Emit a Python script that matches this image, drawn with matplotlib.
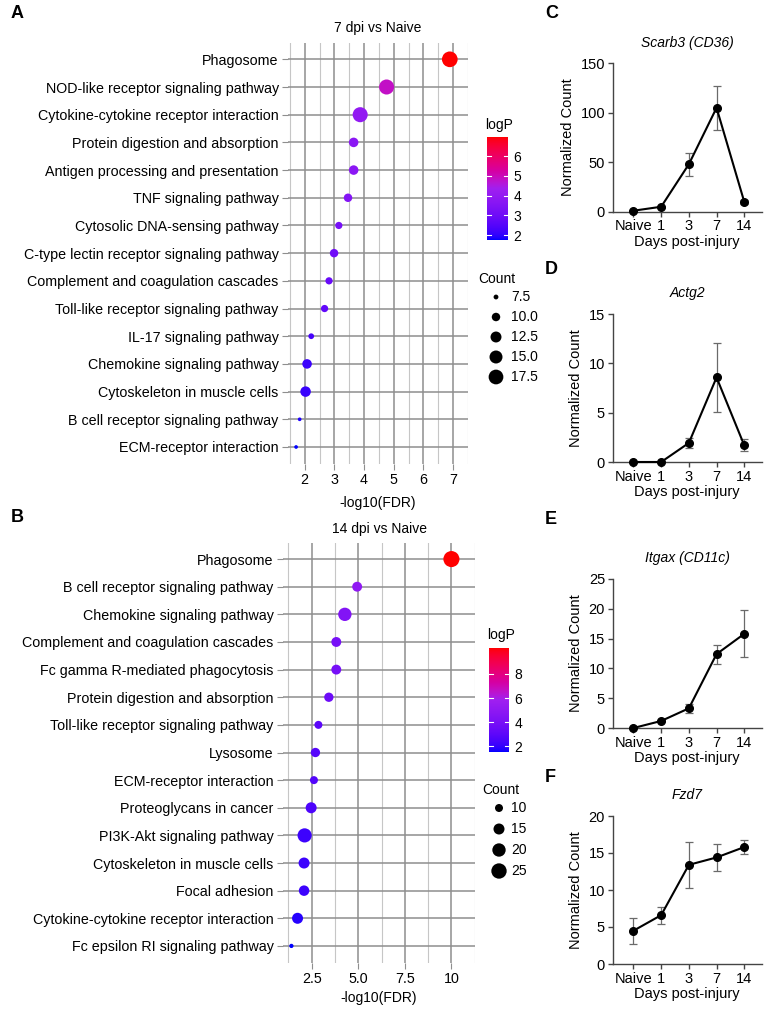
import numpy as np
import matplotlib
matplotlib.use('Agg')
import matplotlib.pyplot as plt
from matplotlib.colors import ListedColormap

plt.rcParams['font.family'] = ['Liberation Sans', 'DejaVu Sans']

# ---- panel A: KEGG enrichment, 7 dpi vs naive
terms_a = ['Phagosome', 'NOD-like receptor signaling pathway',
           'Cytokine-cytokine receptor interaction', 'Protein digestion and absorption',
           'Antigen processing and presentation', 'TNF signaling pathway',
           'Cytosolic DNA-sensing pathway', 'C-type lectin receptor signaling pathway',
           'Complement and coagulation cascades', 'Toll-like receptor signaling pathway',
           'IL-17 signaling pathway', 'Chemokine signaling pathway',
           'Cytoskeleton in muscle cells', 'B cell receptor signaling pathway',
           'ECM-receptor interaction']
fdr_a = [6.89, 4.76, 3.87, 3.65, 3.65, 3.46, 3.15, 2.99, 2.82, 2.67, 2.22, 2.08, 2.03, 1.83, 1.71]
count_a = [19, 18, 18, 11, 11, 10, 9, 10, 9, 9, 8, 11, 12, 7, 7]
logp_a = [6.98, 4.85, 3.95, 3.72, 3.72, 3.53, 3.21, 3.05, 2.88, 2.72, 2.27, 2.13, 2.08, 1.87, 1.75]
ticks_a = [2, 3, 4, 5, 6, 7]
count_breaks_a = [7.5, 10.0, 12.5, 15.0, 17.5]
logp_breaks_a = [2, 3, 4, 5, 6]

# ---- panel B: KEGG enrichment, 14 dpi vs naive
terms_b = ['Phagosome', 'B cell receptor signaling pathway', 'Chemokine signaling pathway',
           'Complement and coagulation cascades', 'Fc gamma R-mediated phagocytosis',
           'Protein digestion and absorption', 'Toll-like receptor signaling pathway',
           'Lysosome', 'ECM-receptor interaction', 'Proteoglycans in cancer',
           'PI3K-Akt signaling pathway', 'Cytoskeleton in muscle cells', 'Focal adhesion',
           'Cytokine-cytokine receptor interaction', 'Fc epsilon RI signaling pathway']
fdr_b = [10.0, 4.94, 4.28, 3.82, 3.82, 3.42, 2.86, 2.70, 2.62, 2.47, 2.12, 2.09, 2.09, 1.74, 1.41]
count_b = [27, 13, 20, 13, 13, 12, 10, 12, 10, 15, 22, 15, 14, 15, 6]
logp_b = [10.14, 5.05, 4.40, 3.92, 3.92, 3.52, 2.95, 2.79, 2.70, 2.55, 2.19, 2.16, 2.16, 1.82, 1.53]
ticks_b = [2.5, 5.0, 7.5, 10.0]
tick_labels_b = ['2.5', '5.0', '7.5', '10']
count_breaks_b = [10, 15, 20, 25]
logp_breaks_b = [2, 4, 6, 8]

# ---- panels C-F: normalized counts over time
days = ['Naive', '1', '3', '7', '14']
scarb3_mean = [1.0, 5.0, 48.0, 105.0, 10.0]
scarb3_sem = [0.5, 1.0, 11.5, 22.0, 2.0]
actg2_mean = [0.0, 0.0, 1.93, 8.57, 1.69]
actg2_sem = [0.0, 0.0, 0.5, 3.5, 0.6]
itgax_mean = [0.0, 1.18, 3.3, 12.4, 15.8]
itgax_sem = [0.05, 0.1, 0.7, 1.6, 3.95]
fzd7_mean = [4.5, 6.6, 13.4, 14.4, 15.8]
fzd7_sem = [1.75, 1.17, 3.1, 1.8, 1.0]

W, H = 767, 1009
GRID_MAJ = '#8e8e8e'
GRID_MIN = '#c6c6c6'
M = np.array([[0.4124, 0.3576, 0.1805], [0.2126, 0.7152, 0.0722], [0.0193, 0.1192, 0.9505]])
WP = np.array([0.95047, 1.0, 1.08883])


def srgb_to_lab(rgb):
    rgb = np.asarray(rgb, float)
    c = np.where(rgb <= 0.04045, rgb / 12.92, ((rgb + 0.055) / 1.055) ** 2.4)
    t = (M @ c) / WP
    f = np.where(t > (6 / 29) ** 3, np.cbrt(t), t / (3 * (6 / 29) ** 2) + 4 / 29)
    return np.array([116 * f[1] - 16, 500 * (f[0] - f[1]), 200 * (f[1] - f[2])])


def lab_to_srgb(lab):
    L, a, b = lab
    fy = (L + 16) / 116
    f = np.array([fy + a / 500, fy, fy - b / 200])
    t = np.where(f > 6 / 29, f ** 3, 3 * (6 / 29) ** 2 * (f - 4 / 29))
    c = np.clip(np.linalg.inv(M) @ (t * WP), 0, 1)
    return np.clip(np.where(c <= 0.0031308, 12.92 * c, 1.055 * c ** (1 / 2.4) - 0.055), 0, 1)


# blue -> purple -> red, interpolated in Lab like ggplot's gradientn
stops = [srgb_to_lab(c) for c in ([0, 0, 1], [0xA0 / 255, 0x20 / 255, 0xF0 / 255], [1, 0, 0])]
cols = []
for t in np.linspace(0, 1, 256):
    if t <= 0.5:
        lab = stops[0] + (stops[1] - stops[0]) * (t / 0.5)
    else:
        lab = stops[1] + (stops[2] - stops[1]) * ((t - 0.5) / 0.5)
    cols.append(lab_to_srgb(lab))
cmap = ListedColormap(cols)


def px_axes(fig, l, t, r, b):
    return fig.add_axes([l / W, 1 - b / H, (r - l) / W, (b - t) / H])


def dot_area(c, k, c0):
    d = k * np.sqrt(np.maximum(np.asarray(c, float) - c0, 0.05))
    return (d * 0.72) ** 2


def dotplot(fig, box, terms, fdr, counts, logp, ticks, ticklabels, k, c0):
    ax = px_axes(fig, *box)
    n = len(terms)
    y = np.arange(n)[::-1]
    lo, hi = min(fdr), max(fdr)
    pad = 0.05 * (hi - lo)
    ax.set_xlim(lo - pad, hi + pad)
    ax.set_ylim(-0.6, n - 0.4)
    step = ticks[1] - ticks[0]
    minor = np.arange(ticks[0] - step / 2, ticks[-1] + step, step)
    ax.set_xticks(ticks)
    ax.set_xticklabels(ticklabels)
    ax.set_xticks(minor, minor=True)
    ax.set_yticks(y)
    ax.set_yticklabels(terms)
    ax.grid(which='major', color=GRID_MAJ, lw=1.1)
    ax.grid(which='minor', axis='x', color=GRID_MIN, lw=0.8)
    ax.set_axisbelow(True)
    for s in ax.spines.values():
        s.set_visible(False)
    ax.tick_params(which='major', length=4, color=GRID_MAJ, labelsize=10.3, pad=3)
    ax.tick_params(which='minor', length=0)
    vmin, vmax = min(logp), max(logp)
    ax.scatter(fdr, y, s=dot_area(counts, k, c0), c=logp, cmap=cmap, vmin=vmin, vmax=vmax,
               edgecolors='none', zorder=3, clip_on=False)
    return ax


def colorbar(fig, box, logp, breaks):
    ax = px_axes(fig, *box)
    vmin, vmax = min(logp), max(logp)
    grad = np.linspace(vmin, vmax, 256).reshape(-1, 1)
    ax.imshow(grad, aspect='auto', cmap=cmap, extent=[0, 1, vmin, vmax], origin='lower')
    ax.set_xlim(0, 1)
    ax.set_ylim(vmin, vmax)
    for b in breaks:
        ax.plot([0, 0.2], [b, b], color='white', lw=0.8)
        ax.plot([0.8, 1], [b, b], color='white', lw=0.8)
    ax.set_xticks([])
    ax.yaxis.tick_right()
    ax.set_yticks(breaks)
    ax.tick_params(axis='y', length=0, labelsize=10, pad=4)
    for s in ax.spines.values():
        s.set_visible(False)
    return ax


def lineplot(fig, box, mean, sem, top, step, title):
    ax = px_axes(fig, *box)
    x = np.arange(len(days))
    ax.errorbar(x, mean, yerr=sem, fmt='none', ecolor='#6a6a6a', elinewidth=0.9,
                capsize=3.2, capthick=0.9, zorder=2, clip_on=False)
    ax.plot(x, mean, color='black', lw=1.5, marker='o', ms=5.5, zorder=3, clip_on=False)
    ax.set_xlim(-0.75, 4.63)
    ax.set_ylim(0, top)
    ax.set_yticks(np.arange(0, top + step / 2, step))
    ax.set_xticks(x)
    ax.set_xticklabels(days)
    for s in ['top', 'right']:
        ax.spines[s].set_visible(False)
    for s in ['left', 'bottom']:
        ax.spines[s].set_color('#444444')
        ax.spines[s].set_linewidth(1.0)
    ax.tick_params(length=3.5, width=1.0, color='#444444', labelsize=10.5, pad=2)
    ax.set_ylabel('Normalized Count', fontsize=10.5, labelpad=4)
    ax.set_xlabel('Days post-injury', fontsize=10.5, labelpad=1)
    ax.set_title(title, fontsize=10, pad=12, fontstyle='italic')
    return ax


fig = plt.figure(figsize=(W / 100, H / 100), dpi=100)
ov = fig.add_axes([0, 0, 1, 1])
ov.set_xlim(0, W)
ov.set_ylim(H, 0)
ov.axis('off')

# panel A
k_a, c0_a = 4.4, 6.3
dotplot(fig, (288.4, 42.7, 467.9, 463.6), terms_a, fdr_a, count_a, logp_a,
        ticks_a, [str(t) for t in ticks_a], k_a, c0_a)
ov.text(378, 28, '7 dpi vs Naive', ha='center', va='center', fontsize=10)
ov.text(378, 503, '-log10(FDR)', ha='center', va='center', fontsize=10)
colorbar(fig, (487, 137, 508, 240), logp_a, logp_breaks_a)
ov.text(485, 125, 'logP', ha='left', va='center', fontsize=10)
ov.text(478, 279, 'Count', ha='left', va='center', fontsize=10)
for i, c in enumerate(count_breaks_a):
    ov.scatter([496], [297 + 20 * i], s=dot_area(c, k_a, c0_a), color='black', edgecolors='none')
    ov.text(511, 297 + 20 * i, f'{c:.1f}', ha='left', va='center', fontsize=10)

# panel B
k_b, c0_b = 3.38, 4.4
dotplot(fig, (283.4, 542.5, 474.7, 962.5), terms_b, fdr_b, count_b, logp_b,
        ticks_b, tick_labels_b, k_b, c0_b)
ov.text(379, 529, '14 dpi vs Naive', ha='center', va='center', fontsize=10)
ov.text(379, 998, '-log10(FDR)', ha='center', va='center', fontsize=10)
colorbar(fig, (489, 648, 509, 752), logp_b, logp_breaks_b)
ov.text(487, 635, 'logP', ha='left', va='center', fontsize=10)
ov.text(482, 790, 'Count', ha='left', va='center', fontsize=10)
for i, c in enumerate(count_breaks_b):
    ov.scatter([499], [808 + 21 * i], s=dot_area(c, k_b, c0_b), color='black', edgecolors='none')
    ov.text(511, 808 + 21 * i, str(c), ha='left', va='center', fontsize=10)

# panels C-F
lineplot(fig, (612.7, 63.3, 761.7, 211.7), scarb3_mean, scarb3_sem, 150, 50, 'Scarb3 (CD36)')
lineplot(fig, (612.7, 314, 761.7, 462), actg2_mean, actg2_sem, 15, 5, 'Actg2')
lineplot(fig, (612.7, 579, 761.7, 728), itgax_mean, itgax_sem, 25, 5, 'Itgax (CD11c)')
lineplot(fig, (612.7, 816, 761.7, 964), fzd7_mean, fzd7_sem, 20, 5, 'Fzd7')

for letter, x, y in [('A', 11, 14), ('B', 11, 517), ('C', 545, 14),
                     ('D', 545, 270), ('E', 545, 520), ('F', 545, 777)]:
    ov.text(x, y, letter, ha='left', va='center', fontsize=13, fontweight='bold')

fig.savefig('out.png', dpi=100)
